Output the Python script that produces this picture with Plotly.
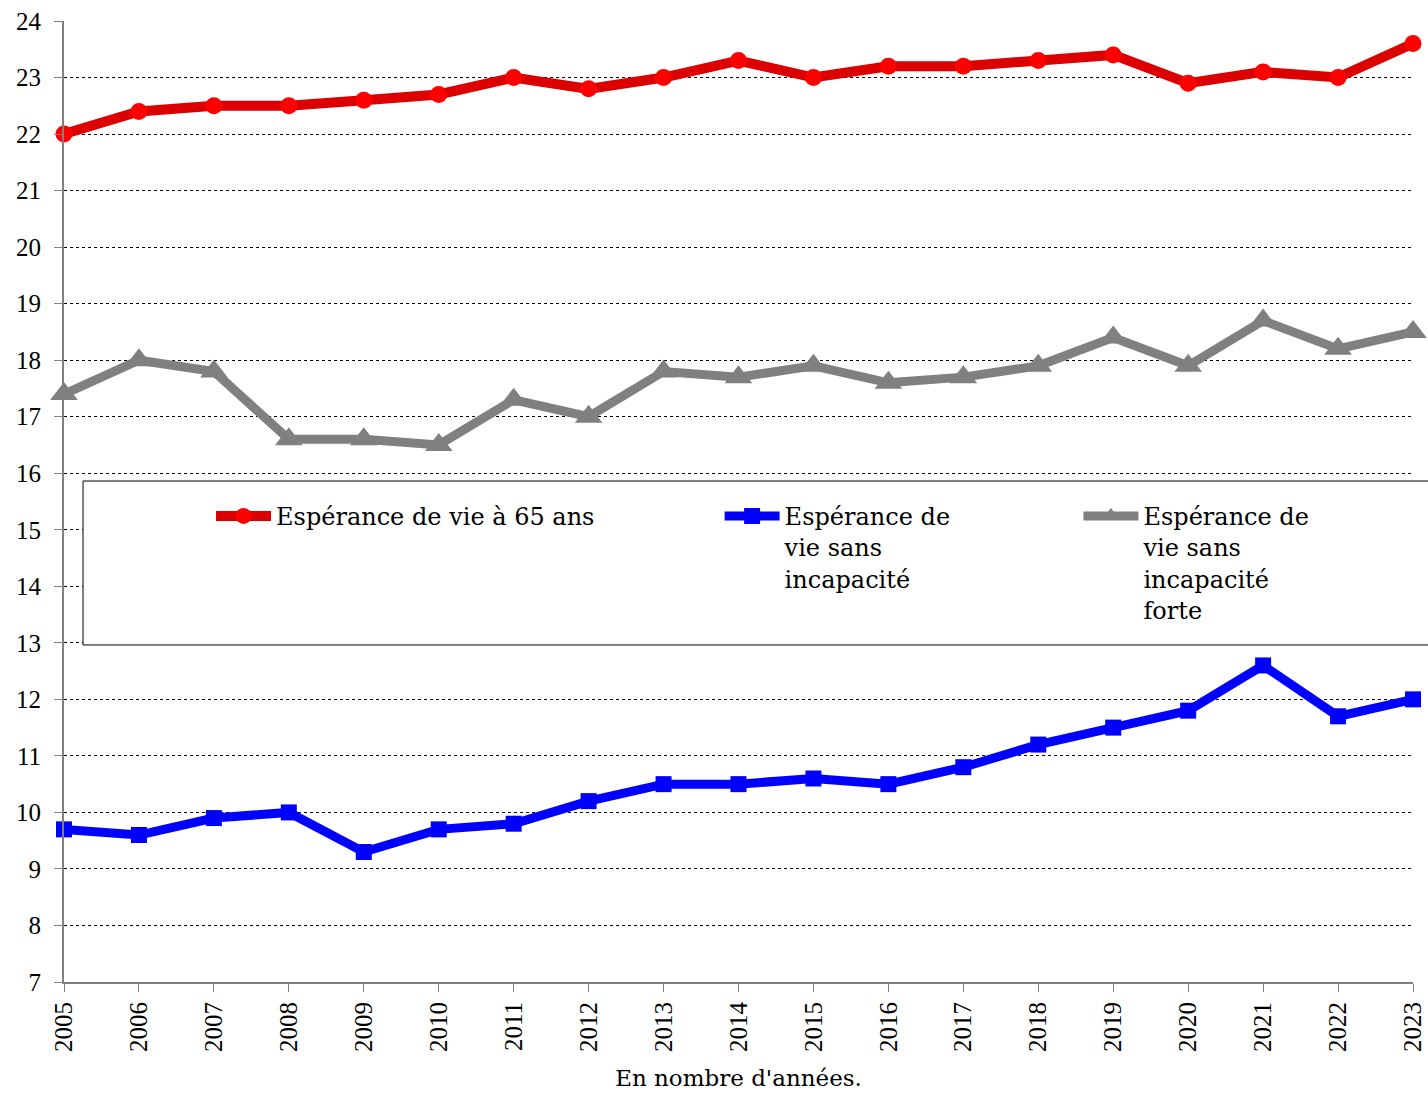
import plotly.graph_objects as go

years = list(range(2005, 2024))
esperance_65 = [22.0, 22.4, 22.5, 22.5, 22.6, 22.7, 23.0, 22.8, 23.0, 23.3,
                23.0, 23.2, 23.2, 23.3, 23.4, 22.9, 23.1, 23.0, 23.6]
sans_incapacite = [9.7, 9.6, 9.9, 10.0, 9.3, 9.7, 9.8, 10.2, 10.5, 10.5,
                   10.6, 10.5, 10.8, 11.2, 11.5, 11.8, 12.6, 11.7, 12.0]
sans_incapacite_forte = [17.4, 18.0, 17.8, 16.6, 16.6, 16.5, 17.3, 17.0, 17.8, 17.7,
                         17.9, 17.6, 17.7, 17.9, 18.4, 17.9, 18.7, 18.2, 18.5]
y_ticks = list(range(7, 25))

font = "Liberation Serif, Times New Roman, serif"
text_font = "DejaVu Serif, serif"

fig = go.Figure()
fig.add_trace(go.Scatter(
    x=years, y=esperance_65, mode="lines+markers", name="Espérance de vie à 65 ans",
    line=dict(color="#DD0000", width=10), marker=dict(color="#FF0000", size=17, symbol="circle"),
    cliponaxis=False, legend="legend",
))
fig.add_trace(go.Scatter(
    x=years, y=sans_incapacite, mode="lines+markers", name="Espérance de<br>vie sans<br>incapacité",
    line=dict(color="#0000FF", width=9), marker=dict(color="#0000FF", size=16, symbol="square"),
    cliponaxis=False, legend="legend2",
))
fig.add_trace(go.Scatter(
    x=years, y=sans_incapacite_forte, mode="lines+markers",
    name="Espérance de<br>vie sans<br>incapacité<br>forte",
    line=dict(color="#808080", width=9), marker=dict(color="#808080", size=24, symbol="triangle-up"),
    cliponaxis=False, legend="legend3",
))

# white legend box with a border, running off the right edge
fig.add_shape(type="rect", xref="paper", yref="paper",
              x0=0.0141, x1=1.2, y0=0.3507, y1=0.5213,
              line=dict(color="black", width=1), fillcolor="white", layer="above")

leg = dict(font=dict(family=text_font, size=24, color="black"), bgcolor="rgba(0,0,0,0)",
           borderwidth=0, xanchor="left", yanchor="top", itemwidth=55, valign="top",
           tracegroupgap=0)
fig.update_layout(
    legend=dict(leg, x=0.109, y=0.508),
    legend2=dict(leg, x=0.486, y=0.508),
    legend3=dict(leg, x=0.752, y=0.508),
)

fig.update_xaxes(
    range=[2005, 2023], tickmode="array", tickvals=years, ticktext=[str(y) for y in years],
    tickangle=-90, ticks="outside", ticklen=8, tickcolor="#808080", automargin=False,
    ticklabeloverflow="allow",
    showline=True, linecolor="#808080", linewidth=2, showgrid=False, zeroline=False,
    tickfont=dict(family=font, size=25, color="black"),
    title=dict(text="En nombre d'années.", font=dict(family=text_font, size=23, color="black"), standoff=19),
)
fig.update_yaxes(
    range=[7, 24], tickmode="array", tickvals=y_ticks, ticks="outside", ticklen=8, tickcolor="#808080",
    showline=True, linecolor="#808080", linewidth=2, zeroline=False, automargin=False,
    ticklabeloverflow="allow",
    showgrid=True, gridcolor="black", gridwidth=1, griddash="dot", ticklabelstandoff=8,
    tickfont=dict(family=font, size=25, color="black"),
)

fig.update_layout(
    width=1428, height=1093,
    margin=dict(l=64, r=15, t=21, b=111),
    font=dict(family=font),
    plot_bgcolor="white", paper_bgcolor="white",
    showlegend=True,
)

# drop the default page margin so the figure sits at the window's corner
fig.write_html("out.html", config={"displayModeBar": False},
               post_script="document.body.style.margin='0';")
